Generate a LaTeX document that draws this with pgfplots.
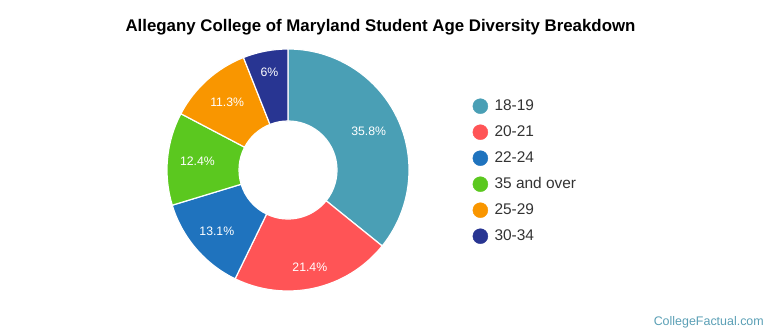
\documentclass[border=0pt]{standalone}
\usepackage{pgfplots}
\pgfplotsset{compat=1.18}
\usepackage{pgfplotstable}
\usepackage{fontspec}
\setmainfont{Liberation Sans}
\definecolor{c1}{HTML}{4A9FB5}
\definecolor{c2}{HTML}{FF5456}
\definecolor{c3}{HTML}{1F73BE}
\definecolor{c4}{HTML}{5BC81F}
\definecolor{c5}{HTML}{F99600}
\definecolor{c6}{HTML}{283592}
\definecolor{txt}{HTML}{333333}
\definecolor{wm}{HTML}{5A9FB5}
\pgfplotstableread[col sep=comma]{
label,value,color,lr
18-19,35.8,c1,89.5
20-21,21.4,c2,100
22-24,13.1,c3,93.6
35 and over,12.4,c4,91
25-29,11.3,c5,91
30-34,6,c6,99
}\agedata
\tikzset{slicelbl/.style={text=white, font=\fontsize{12.3}{14}\selectfont}}
\begin{document}
\begin{tikzpicture}
\begin{axis}[hide axis, scale only axis, width=770bp, height=335bp,
  xmin=0, xmax=770, ymin=0, ymax=335, clip=false,
  legend style={at={(0.6097,0.7134)}, anchor=north west, draw=none, fill=none,
    font=\fontsize{15.5}{18}\selectfont, text=txt, row sep=10bp,
    nodes={inner sep=1bp, text height=11bp, text depth=3bp},
    /tikz/every odd column/.append style={column sep=5.5bp}},
  legend cell align=left,
  legend image code/.code={\fill (7.5bp,0bp) circle (7.5bp);}]
\path (axis cs:0,0) rectangle (axis cs:770,335);
\def\acc{0}
\pgfplotsforeachungrouped \i in {0,...,5} {
  \pgfplotstablegetelem{\i}{value}\of\agedata \let\v\pgfplotsretval
  \pgfplotstablegetelem{\i}{color}\of\agedata \let\c\pgfplotsretval
  \pgfplotstablegetelem{\i}{lr}\of\agedata \let\lr\pgfplotsretval
  \pgfmathsetmacro\aA{90-3.6*\acc}
  \pgfmathsetmacro\aB{90-3.6*(\acc+\v)}
  \pgfmathsetmacro\aM{(\aA+\aB)/2}
  \pgfmathsetmacro\acc{\acc+\v}
  \edef\temp{\noexpand\filldraw[fill=\c, draw=white, line width=1.2bp, shift={(axis cs:288,165)}] (\aA:121bp) arc[start angle=\aA, end angle=\aB, radius=121bp] -- (\aB:49bp) arc[start angle=\aB, end angle=\aA, radius=49bp] -- cycle;
  \noexpand\node[slicelbl, shift={(axis cs:288,165)}] at (\aM:\lr bp) {\v\noexpand\%};}
  \temp
}
\addlegendimage{c1}\addlegendentry{18-19}
\addlegendimage{c2}\addlegendentry{20-21}
\addlegendimage{c3}\addlegendentry{22-24}
\addlegendimage{c4}\addlegendentry{35 and over}
\addlegendimage{c5}\addlegendentry{25-29}
\addlegendimage{c6}\addlegendentry{30-34}
\node[font=\bfseries\fontsize{16.9}{20}\selectfont] at (axis cs:380.5,308) {Allegany College of Maryland Student Age Diversity Breakdown};
\node[text=wm, font=\fontsize{12.5}{15}\selectfont, anchor=east, inner sep=0pt] at (axis cs:764,13) {CollegeFactual.com};
\end{axis}
\end{tikzpicture}
\end{document}
